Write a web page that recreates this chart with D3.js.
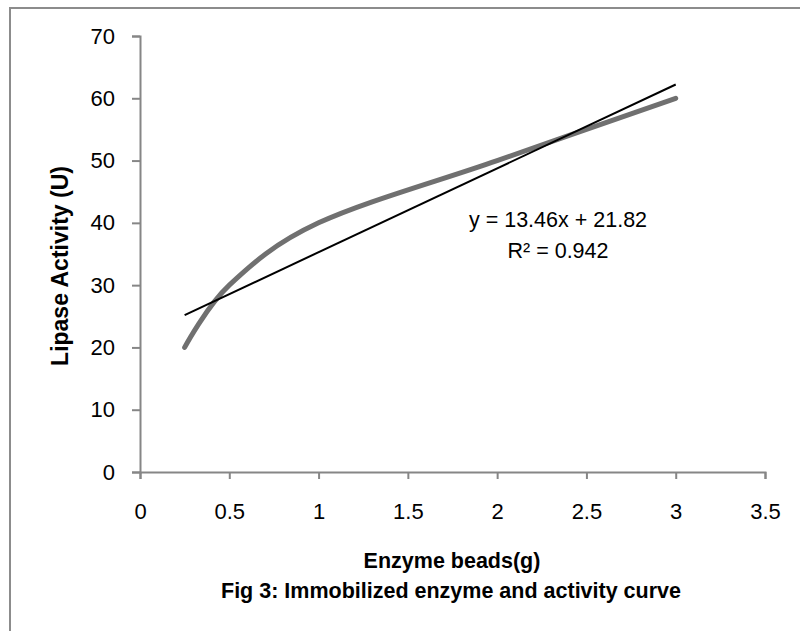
<!DOCTYPE html>
<html>
<head>
<meta charset="utf-8">
<script src="https://cdn.jsdelivr.net/npm/d3@7"></script>
<style>
  body { margin: 0; background: #fff; }
  text { font-family: "Liberation Sans", Arial, sans-serif; fill: #000; }
</style>
</head>
<body>
<svg class="chart"></svg>
<script>
// enzyme beads (g) vs lipase activity (U)
var beads = [0.25, 0.5, 1, 2, 3]
var activity = [20, 30, 40, 50, 60]
var xTicks = [0, 0.5, 1, 1.5, 2, 2.5, 3, 3.5]
var yTicks = [0, 10, 20, 30, 40, 50, 60, 70]
var eqLabel = "y = 13.46x + 21.82"
var r2Label = "R\u00B2 = 0.942"

var width = 800;
var height = 631;

var x = d3.scaleLinear()
            .domain([0, 3.5])
            .range([140, 765]);
var y = d3.scaleLinear()
            .domain([0, 70])
            .range([472, 36]);

// least squares trendline from the points
var mx = d3.mean(beads), my = d3.mean(activity);
var sxy = d3.sum(beads, function(d, i) { return (d - mx) * (activity[i] - my); });
var sxx = d3.sum(beads, function(d) { return (d - mx) * (d - mx); });
var slope = sxy / sxx;
var icpt = my - slope * mx;

var svg = d3.select(".chart")
            .attr("width", width)
            .attr("height", height);

// chart frame (cropped on right/bottom)
svg.append("path")
    .attr("d", "M10," + height + "V8H" + width)
    .attr("fill", "none")
    .attr("stroke", "#8c8c8c")
    .attr("stroke-width", 2);

var xAxis = d3.axisBottom(x)
                .tickValues(xTicks)
                .tickFormat(d3.format("~g"))
                .tickSizeOuter(0)
                .tickSize(7)
                .tickPadding(24);

var yAxis = d3.axisLeft(y)
                .tickValues(yTicks)
                .tickSizeOuter(0)
                .tickSize(8)
                .tickPadding(17);

var gx = svg.append("g")
    .attr("transform", "translate(0,472)")
    .call(xAxis);

var gy = svg.append("g")
    .attr("transform", "translate(140,0)")
    .call(yAxis);

svg.selectAll(".domain, .tick line")
    .attr("stroke", "#868686")
    .attr("stroke-width", 2);
svg.selectAll(".tick text")
    .style("font-size", "22px")
    .style("font-family", "'Liberation Sans', Arial, sans-serif")
    .attr("fill", "#000");

// smoothed data line
var line = d3.line()
                .x(function(d, i) { return x(d); })
                .y(function(d, i) { return y(activity[i]); })
                .curve(d3.curveCatmullRom.alpha(0));

svg.append("path")
    .datum(beads)
    .attr("d", line)
    .attr("fill", "none")
    .attr("stroke", "#707070")
    .attr("stroke-width", 5)
    .attr("stroke-linecap", "round")
    .attr("stroke-linejoin", "round");

// linear trendline
var x0 = d3.min(beads), x1 = d3.max(beads);
svg.append("line")
    .attr("x1", x(x0))
    .attr("y1", y(slope * x0 + icpt))
    .attr("x2", x(x1))
    .attr("y2", y(slope * x1 + icpt))
    .attr("stroke", "#000")
    .attr("stroke-width", 2);

svg.append("text")
    .attr("x", 558)
    .attr("y", 227)
    .attr("text-anchor", "middle")
    .style("font-size", "21.5px")
    .text(eqLabel);

svg.append("text")
    .attr("x", 558)
    .attr("y", 258)
    .attr("text-anchor", "middle")
    .style("font-size", "21.5px")
    .text(r2Label);

svg.append("text")
    .attr("transform", "translate(68,266) rotate(-90)")
    .attr("text-anchor", "middle")
    .style("font-size", "23px")
    .style("font-weight", "bold")
    .text("Lipase Activity (U)");

svg.append("text")
    .attr("x", 452)
    .attr("y", 568)
    .attr("text-anchor", "middle")
    .style("font-size", "21.5px")
    .style("font-weight", "bold")
    .text("Enzyme beads(g)");

svg.append("text")
    .attr("x", 451)
    .attr("y", 598)
    .attr("text-anchor", "middle")
    .style("font-size", "21.5px")
    .style("font-weight", "bold")
    .text("Fig 3: Immobilized enzyme and activity curve");
</script>
</body>
</html>
